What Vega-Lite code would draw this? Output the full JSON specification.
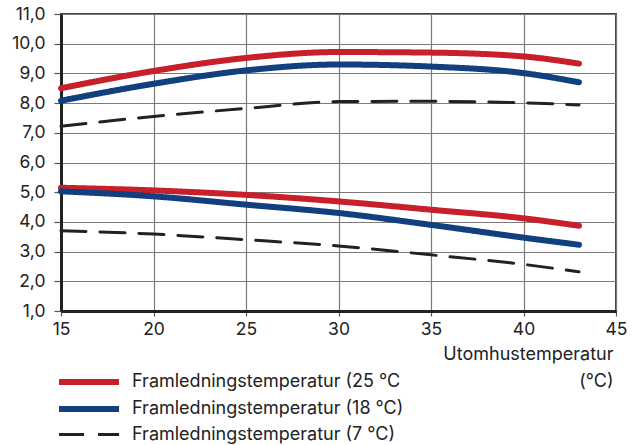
{
  "$schema": "https://vega.github.io/schema/vega-lite/v6.json",
  "autosize": {"type": "none"},
  "width": 555,
  "height": 297,
  "padding": {"left": 61, "top": 14, "right": 26, "bottom": 134},
  "background": "white",
  "config": {
    "font": "Inter",
    "view": {"stroke": "#444444", "strokeWidth": 2},
    "axis": {
      "labelFont": "Inter",
      "labelFontSize": 17.5,
      "labelColor": "#222222",
      "gridColor": "#7a7a7a",
      "gridWidth": 1.2,
      "gridOpacity": 1,
      "tickColor": "#555555",
      "tickWidth": 1.2,
      "domainColor": "#222222",
      "domainWidth": 3
    }
  },
  "data": {
    "values": [
      {"x": 15, "y": 8.50, "series": "Framledningstemperatur (25 °C", "part": "upper"},
      {"x": 20, "y": 9.08, "series": "Framledningstemperatur (25 °C", "part": "upper"},
      {"x": 25, "y": 9.52, "series": "Framledningstemperatur (25 °C", "part": "upper"},
      {"x": 30, "y": 9.72, "series": "Framledningstemperatur (25 °C", "part": "upper"},
      {"x": 35, "y": 9.70, "series": "Framledningstemperatur (25 °C", "part": "upper"},
      {"x": 40, "y": 9.57, "series": "Framledningstemperatur (25 °C", "part": "upper"},
      {"x": 43, "y": 9.33, "series": "Framledningstemperatur (25 °C", "part": "upper"},
      {"x": 15, "y": 8.08, "series": "Framledningstemperatur (18 °C)", "part": "upper"},
      {"x": 20, "y": 8.65, "series": "Framledningstemperatur (18 °C)", "part": "upper"},
      {"x": 25, "y": 9.10, "series": "Framledningstemperatur (18 °C)", "part": "upper"},
      {"x": 30, "y": 9.30, "series": "Framledningstemperatur (18 °C)", "part": "upper"},
      {"x": 35, "y": 9.23, "series": "Framledningstemperatur (18 °C)", "part": "upper"},
      {"x": 40, "y": 9.01, "series": "Framledningstemperatur (18 °C)", "part": "upper"},
      {"x": 43, "y": 8.70, "series": "Framledningstemperatur (18 °C)", "part": "upper"},
      {"x": 15, "y": 7.22, "series": "Framledningstemperatur (7 °C)", "part": "upper"},
      {"x": 20, "y": 7.55, "series": "Framledningstemperatur (7 °C)", "part": "upper"},
      {"x": 25, "y": 7.82, "series": "Framledningstemperatur (7 °C)", "part": "upper"},
      {"x": 30, "y": 8.05, "series": "Framledningstemperatur (7 °C)", "part": "upper"},
      {"x": 35, "y": 8.06, "series": "Framledningstemperatur (7 °C)", "part": "upper"},
      {"x": 40, "y": 8.01, "series": "Framledningstemperatur (7 °C)", "part": "upper"},
      {"x": 43, "y": 7.94, "series": "Framledningstemperatur (7 °C)", "part": "upper"},
      {"x": 15, "y": 5.15, "series": "Framledningstemperatur (25 °C", "part": "lower"},
      {"x": 20, "y": 5.06, "series": "Framledningstemperatur (25 °C", "part": "lower"},
      {"x": 25, "y": 4.91, "series": "Framledningstemperatur (25 °C", "part": "lower"},
      {"x": 30, "y": 4.69, "series": "Framledningstemperatur (25 °C", "part": "lower"},
      {"x": 35, "y": 4.41, "series": "Framledningstemperatur (25 °C", "part": "lower"},
      {"x": 40, "y": 4.12, "series": "Framledningstemperatur (25 °C", "part": "lower"},
      {"x": 43, "y": 3.87, "series": "Framledningstemperatur (25 °C", "part": "lower"},
      {"x": 15, "y": 5.03, "series": "Framledningstemperatur (18 °C)", "part": "lower"},
      {"x": 20, "y": 4.86, "series": "Framledningstemperatur (18 °C)", "part": "lower"},
      {"x": 25, "y": 4.58, "series": "Framledningstemperatur (18 °C)", "part": "lower"},
      {"x": 30, "y": 4.30, "series": "Framledningstemperatur (18 °C)", "part": "lower"},
      {"x": 35, "y": 3.90, "series": "Framledningstemperatur (18 °C)", "part": "lower"},
      {"x": 40, "y": 3.47, "series": "Framledningstemperatur (18 °C)", "part": "lower"},
      {"x": 43, "y": 3.23, "series": "Framledningstemperatur (18 °C)", "part": "lower"},
      {"x": 15, "y": 3.70, "series": "Framledningstemperatur (7 °C)", "part": "lower"},
      {"x": 20, "y": 3.59, "series": "Framledningstemperatur (7 °C)", "part": "lower"},
      {"x": 25, "y": 3.40, "series": "Framledningstemperatur (7 °C)", "part": "lower"},
      {"x": 30, "y": 3.19, "series": "Framledningstemperatur (7 °C)", "part": "lower"},
      {"x": 35, "y": 2.89, "series": "Framledningstemperatur (7 °C)", "part": "lower"},
      {"x": 40, "y": 2.57, "series": "Framledningstemperatur (7 °C)", "part": "lower"},
      {"x": 43, "y": 2.32, "series": "Framledningstemperatur (7 °C)", "part": "lower"}
    ]
  },
  "mark": {"type": "line", "interpolate": "monotone", "strokeCap": "round"},
  "encoding": {
    "x": {
      "field": "x",
      "type": "quantitative",
      "scale": {"domain": [15, 45], "nice": false},
      "axis": {
        "values": [15, 20, 25, 30, 35, 40, 45],
        "tickSize": 5,
        "labelPadding": 4,
        "labelFlush": false,
        "title": ["Utomhustemperatur", "(°C)"],
        "titleFont": "Inter",
        "titleFontSize": 18,
        "titleFontWeight": "normal",
        "titleColor": "#222222",
        "titleAnchor": "end",
        "titleAlign": "right",
        "titleX": 552,
        "titleY": 34,
        "titleLineHeight": 27,
        "titleBaseline": "top"
      }
    },
    "y": {
      "field": "y",
      "type": "quantitative",
      "scale": {"domain": [1, 11], "nice": false},
      "axis": {
        "values": [1, 2, 3, 4, 5, 6, 7, 8, 9, 10, 11],
        "labelExpr": "replace(format(datum.value, '.1f'), '.', ',')",
        "tickSize": 7,
        "labelPadding": 9,
        "title": null
      }
    },
    "color": {
      "field": "series",
      "type": "nominal",
      "scale": {
        "domain": ["Framledningstemperatur (25 °C", "Framledningstemperatur (18 °C)", "Framledningstemperatur (7 °C)"],
        "range": ["#c8202b", "#123f7e", "#222222"]
      },
      "legend": {
        "orient": "none",
        "legendX": 15,
        "legendY": 355,
        "title": null,
        "padding": 0,
        "symbolType": "M-3,0H3",
        "symbolSize": 400,
        "labelOffset": 30,
        "rowPadding": 2,
        "labelFont": "Inter",
        "labelFontSize": 18,
        "labelColor": "#222222",
        "labelLimit": 500,
        "encode": {
          "symbols": {
            "update": {
              "strokeCap": {"value": "butt"},
              "strokeWidth": {"signal": "indexof(datum.value, '(7 ') >= 0 ? 2.5 : 6"},
              "strokeDash": {"signal": "indexof(datum.value, '(7 ') >= 0 ? [16, 6] : [1, 0]"}
            }
          }
        }
      }
    },
    "strokeDash": {
      "field": "series",
      "type": "nominal",
      "scale": {
        "domain": ["Framledningstemperatur (25 °C", "Framledningstemperatur (18 °C)", "Framledningstemperatur (7 °C)"],
        "range": [[1, 0], [1, 0], [25, 14]]
      }
    },
    "strokeWidth": {
      "field": "series",
      "type": "nominal",
      "scale": {
        "type": "ordinal",
        "domain": ["Framledningstemperatur (25 °C", "Framledningstemperatur (18 °C)", "Framledningstemperatur (7 °C)"],
        "range": [6, 6, 3]
      },
      "legend": null
    },
    "detail": {"field": "part", "type": "nominal"}
  }
}
